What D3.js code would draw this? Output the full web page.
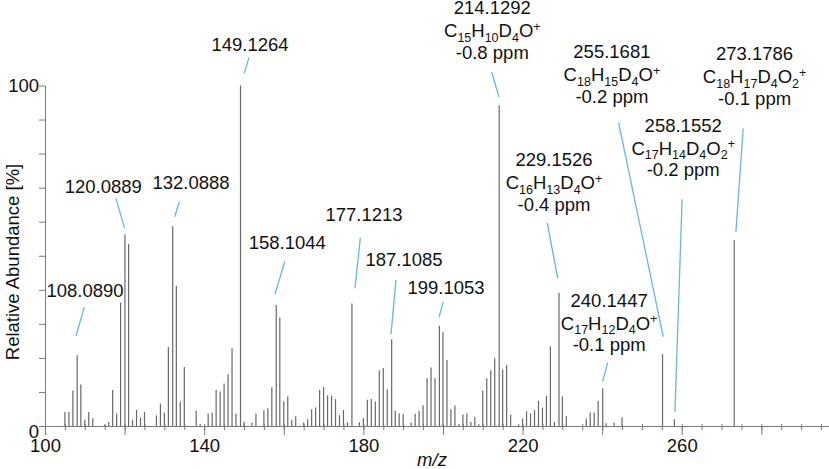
<!DOCTYPE html>
<html>
<head>
<meta charset="utf-8">
<script src="https://d3js.org/d3.v7.min.js"></script>
<style>
  body { margin: 0; background: #fff; }
  text { font-family: "Liberation Sans", Arial, sans-serif; fill: #111; }
</style>
</head>
<body>
<script>

// peaks: m/z and relative abundance (%)
var peakMz = [105, 106, 107, 108.0890, 109, 110, 111, 112, 115, 116, 117, 118, 119, 120.0889, 121, 122, 123, 124, 125,
  128, 129, 130, 131, 132.0888, 133, 134, 135, 138, 139, 141, 142, 143, 144, 145, 146, 147, 148, 149.1264, 150,
  152, 153, 155, 156, 157, 158.1044, 159, 160, 161, 162, 163, 165, 166, 167, 168, 169, 170, 171, 172, 173, 174, 175, 176,
  177.1213, 179, 180, 181, 182, 183, 184, 185, 186, 187.1085, 188, 189, 190, 192, 193, 194, 195, 196, 197, 198,
  199.1053, 200, 201, 202, 203, 204, 205, 206, 207, 208, 209, 210, 211, 212, 213, 214.1292, 215, 216, 217,
  219, 220, 221, 222, 223, 224, 225, 226, 227, 228, 229.1526, 230, 231, 236, 237, 238, 239, 240.1447, 241, 243, 245,
  255.1681, 258.1552, 273.1786];
var peakAbundance = [4.1, 4.1, 10.4, 20.8, 12.2, 1.8, 4.1, 2.3, 0.4, 1.2, 10.6, 3.7, 36.3, 56.3, 53.4, 1.8, 4.7, 2.5, 4.1,
  3.1, 6.6, 3.9, 23.2, 58.7, 41.2, 7.1, 17.3, 4.5, 0.6, 3.7, 3.9, 10.6, 10.1, 12.5, 15.2, 22.8, 3.7, 100, 1.3,
  1.0, 3.7, 4.6, 5.2, 11.4, 35.5, 31.9, 7.3, 8.7, 1.8, 2.9, 1.0, 2.0, 4.9, 5.4, 10.6, 11.5, 9.0, 8.9, 7.9, 3.2, 4.7, 1.1,
  36.0, 1.1, 2.3, 7.7, 7.9, 7.2, 16.4, 17.0, 10.8, 25.5, 4.5, 3.7, 3.6, 1.0, 3.6, 4.4, 6.1, 14.0, 17.2, 14.0,
  29.4, 27.5, 19.4, 4.9, 6.0, 0.6, 3.4, 3.7, 1.2, 2.7, 0.5, 10.4, 14.0, 16.4, 19.9, 94.2, 16.6, 17.9, 3.3,
  0.5, 2.2, 4.3, 3.7, 4.7, 7.4, 5.4, 8.8, 23.4, 1.2, 39.1, 8.7, 2.9, 2.2, 4.0, 4.0, 7.4, 11.1, 0.8, 1.0, 2.6,
  21.1, 2.0, 54.6];

// annotated peaks
var annotMz = [108.0890, 120.0889, 132.0888, 149.1264, 158.1044, 177.1213, 187.1085, 199.1053,
  214.1292, 229.1526, 240.1447, 255.1681, 258.1552, 273.1786];
var annotFormula = ["", "", "", "", "", "", "", "",
  "C15H10D4O+", "C16H13D4O+", "C17H12D4O+", "C18H15D4O+", "C17H14D4O2+", "C18H17D4O2+"];
var annotPpm = ["", "", "", "", "", "", "", "",
  "-0.8 ppm", "-0.4 ppm", "-0.1 ppm", "-0.2 ppm", "-0.2 ppm", "-0.1 ppm"];

var xTickLabels = [100, 140, 180, 220, 260];
var yTickLabels = [0, 100];

// where each label / leader sits, relative to its peak top (px)
var annotLayout = [
  {lx: 7.8, ly: -58.5, sx: 7.1, sy: -47.9, ex: -1.2, ey: -19.2},
  {lx: -21.7, ly: -41.5, sx: -9, sy: -35.9, ex: -0.3, ey: -5.9},
  {lx: 18.3, ly: -36.8, sx: 6.6, sy: -24.4, ex: 2.0, ey: -9.4},
  {lx: 9.5, ly: -34.7, sx: 8.5, sy: -28.1, ex: 3.8, ey: -12.1},
  {lx: 11, ly: -55.8, sx: 8.7, sy: -44.1, ex: -1.3, ey: -10.8},
  {lx: 12.1, ly: -82.7, sx: 8.4, sy: -65.7, ex: 3.1, ey: -15.1},
  {lx: 12.3, ly: -73.1, sx: 4.3, sy: -59.1, ex: -0.7, ey: -4.8},
  {lx: 6.6, ly: -31.9, sx: 3.9, sy: -24.2, ex: -0.4, ey: -8.6},
  {lx: -6.9, ly: -91, sx: -7.5, sy: -33.3, ex: -0.2, ey: -8.3},
  {lx: -5, ly: -126.8, sx: -11.7, sy: -70.1, ex: -1.3, ey: -14.5},
  {lx: 6.4, ly: -81.5, sx: 4.9, sy: -25.5, ex: -0.1, ey: -6.5},
  {lx: -50.6, ly: -295.8, sx: -43.9, sy: -231.4, ex: 0.7, ey: -17.4},
  {lx: 8.8, ly: -287.5, sx: 7.7, sy: -219.9, ex: 0.5, ey: -7.2},
  {lx: 20.4, ly: -180, sx: 9, sy: -111.7, ex: 1.7, ey: -8}
];

var W = 829, H = 469, FS = 18.5;
var axisColor = "#7a7a7a", barColor = "#686868", leaderColor = "#6db5e6";

var svg = d3.select("body").append("svg").attr("width", W).attr("height", H);

var x = d3.scaleLinear().domain([100, 297]).range([45, 829]);
var y = d3.scaleLinear().domain([0, 100]).range([426, 85.5]);

// peaks
svg.append("g").selectAll("line")
  .data(peakMz)
  .join("line")
  .attr("x1", d => x(d)).attr("x2", d => x(d))
  .attr("y1", y(0))
  .attr("y2", (d, i) => y(peakAbundance[i]))
  .attr("stroke", barColor)
  .attr("stroke-width", 1.2);

// x axis (ticks cross the line)
var xa = svg.append("g").attr("transform", "translate(0," + y(0) + ")");
xa.append("g").call(d3.axisBottom(x).tickValues(d3.range(100, 296, 5)).tickSize(4).tickSizeOuter(0).tickFormat(""));
xa.append("g").call(d3.axisBottom(x).tickValues(d3.range(100, 296, 20)).tickSize(9).tickSizeOuter(0).tickFormat(""));
xa.append("g").call(d3.axisTop(x).tickValues(d3.range(105, 296, 5)).tickSize(2).tickSizeOuter(0).tickFormat(""));
xa.append("g").call(d3.axisBottom(x).tickValues(xTickLabels).tickSize(0).tickPadding(12.9).tickSizeOuter(0));
xa.selectAll("path, line").attr("stroke", axisColor);
xa.selectAll("text").attr("font-size", FS).attr("font-family", null).attr("fill", "#111");

// y axis
var ya = svg.append("g").attr("transform", "translate(" + x(100) + ",0)");
ya.append("g").call(d3.axisLeft(y).tickValues(d3.range(0, 101, 10)).tickSize(6).tickSizeOuter(0).tickFormat(""));
ya.append("g").call(d3.axisLeft(y).tickValues(yTickLabels).tickSize(0).tickPadding(6).tickSizeOuter(0));
ya.selectAll("path, line").attr("stroke", axisColor);
ya.selectAll("text").attr("font-size", FS).attr("font-family", null).attr("fill", "#111")
  .attr("dy", d => d === 0 ? "0.62em" : "0.32em");

// axis titles
svg.append("text")
  .attr("transform", "translate(19,262) rotate(-90)")
  .attr("text-anchor", "middle")
  .attr("font-size", FS)
  .text("Relative Abundance [%]");

var xt = svg.append("text")
  .attr("x", 432).attr("y", 466)
  .attr("text-anchor", "middle")
  .attr("font-size", FS)
  .attr("font-style", "italic")
  .text("m/z");

// formula with subscripts and a superscript charge
function writeFormula(t, f) {
  var parts = f.match(/[A-Z][a-z]?|\d+|\+/g);
  var shift = 0;
  parts.forEach(function (p) {
    var sp = t.append("tspan");
    var want = 0, size = FS;
    if (/\d/.test(p)) { want = 4.5; size = 12.5; }
    else if (p === "+") { want = -6.5; size = 12.5; }
    sp.attr("dy", want - shift).attr("font-size", size).text(p);
    shift = want;
  });
}

var ann = svg.append("g");
annotMz.forEach(function (m, i) {
  var k = peakMz.indexOf(m);
  var px = x(m), py = y(peakAbundance[k]);
  var L = annotLayout[i];

  ann.append("line")
    .attr("x1", px + L.sx).attr("y1", py + L.sy)
    .attr("x2", px + L.ex).attr("y2", py + L.ey)
    .attr("stroke", leaderColor)
    .attr("stroke-width", 1.3);

  var cx = px + L.lx, by = py + L.ly;
  ann.append("text")
    .attr("x", cx).attr("y", by)
    .attr("text-anchor", "middle")
    .attr("font-size", FS)
    .text(m.toFixed(4));

  if (annotFormula[i]) {
    var t = ann.append("text")
      .attr("x", cx).attr("y", by + 23)
      .attr("text-anchor", "middle")
      .attr("font-size", FS);
    writeFormula(t, annotFormula[i]);
    ann.append("text")
      .attr("x", cx).attr("y", by + 44.5)
      .attr("text-anchor", "middle")
      .attr("font-size", FS)
      .text(annotPpm[i]);
  }
});

</script>
</body>
</html>
